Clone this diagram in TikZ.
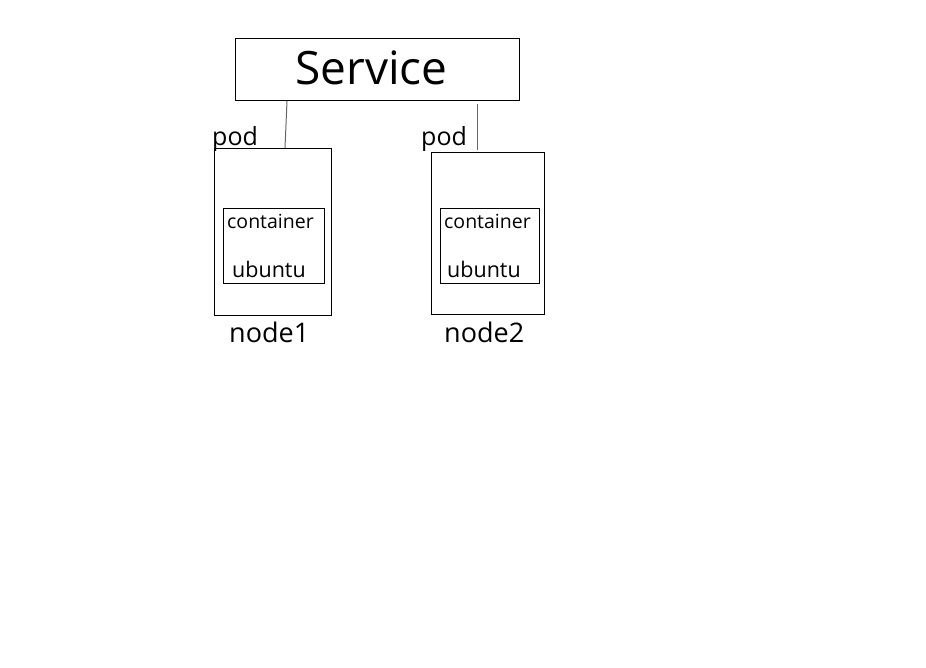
\documentclass[tikz,border=0pt]{standalone}
\usepackage{fontspec}
\setmainfont{Open Sans}
\begin{document}
\begin{tikzpicture}[x=1pt,y=-1pt]
\tikzset{box/.style={draw, line width=0.8pt},
  wire/.style={draw=black!60, line width=1pt},
  lbl/.style={anchor=base west, inner sep=0pt}}
\useasboundingbox (0,0) rectangle (926,667);

\draw[box] (235,38) rectangle (519,100);
\node[lbl, font=\fontsize{46}{50}\selectfont] (svc) at (295,84) {Service};

\draw[box] (214,148) rectangle (331,315);
\draw[box] (223,208) rectangle (324,283);
\node[lbl, font=\fontsize{25}{30}\selectfont] (pod1) at (212,145) {pod};
\node[lbl, font=\fontsize{19.5}{24}\selectfont] (ctr1) at (227,228) {container};
\node[lbl, font=\fontsize{21.5}{26}\selectfont] (ubu1) at (232,277) {ubuntu};
\node[lbl, font=\fontsize{27}{30}\selectfont] (node1) at (229,342) {node1};

\draw[box] (431,152) rectangle (544,314);
\draw[box] (440,208) rectangle (539,283);
\node[lbl, font=\fontsize{25}{30}\selectfont] (pod2) at (421,145) {pod};
\node[lbl, font=\fontsize{19.5}{24}\selectfont] (ctr2) at (444,228) {container};
\node[lbl, font=\fontsize{21.5}{26}\selectfont] (ubu2) at (447,277) {ubuntu};
\node[lbl, font=\fontsize{27}{30}\selectfont] (node2) at (444,342) {node2};

\coordinate (a1) at (287,101);
\coordinate (b1) at (285,148);
\coordinate (a2) at (477,104);
\coordinate (b2) at (477,150);
\draw[wire] (a1) -- (b1);
\draw[wire] (a2) -- (b2);
\end{tikzpicture}
\end{document}
